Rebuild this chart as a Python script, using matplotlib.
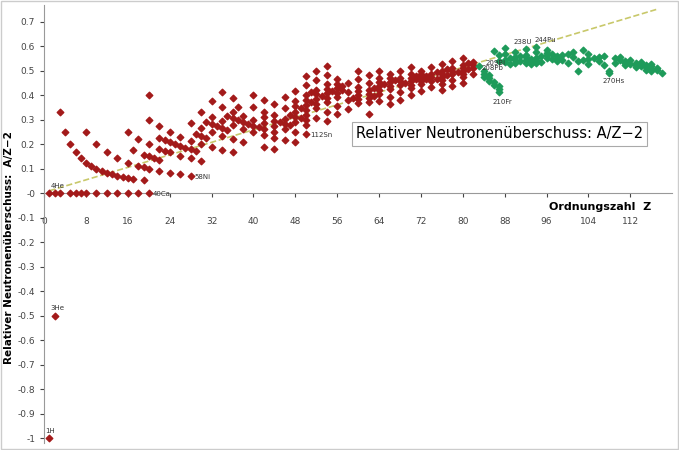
import numpy as np
import matplotlib
matplotlib.use("Agg")
import matplotlib.pyplot as plt

# mass numbers per atomic number Z (stable nuclides, red)
stable = {
    1: [1, 2], 2: [3, 4], 3: [6, 7], 4: [9], 5: [10, 11], 6: [12, 13], 7: [14, 15],
    8: [16, 17, 18], 9: [19], 10: [20, 21, 22], 11: [23], 12: [24, 25, 26], 13: [27],
    14: [28, 29, 30], 15: [31], 16: [32, 33, 34, 36], 17: [35, 37], 18: [36, 38, 40],
    19: [39, 40, 41], 20: [40, 42, 43, 44, 46, 48], 21: [45], 22: [46, 47, 48, 49, 50],
    23: [50, 51], 24: [50, 52, 53, 54], 25: [55], 26: [54, 56, 57, 58], 27: [59],
    28: [58, 60, 61, 62, 64], 29: [63, 65], 30: [64, 66, 67, 68, 70], 31: [69, 71],
    32: [70, 72, 73, 74, 76], 33: [75], 34: [74, 76, 77, 78, 80, 82], 35: [79, 81],
    36: [78, 80, 82, 83, 84, 86], 37: [85, 87], 38: [84, 86, 87, 88], 39: [89],
    40: [90, 91, 92, 94, 96], 41: [93], 42: [92, 94, 95, 96, 97, 98, 100],
    44: [96, 98, 99, 100, 101, 102, 104], 45: [103], 46: [102, 104, 105, 106, 108, 110],
    47: [107, 109], 48: [106, 108, 110, 111, 112, 113, 114, 116], 49: [113, 115],
    50: [112, 114, 115, 116, 117, 118, 119, 120, 122, 124], 51: [121, 123],
    52: [120, 122, 123, 124, 125, 126, 128, 130], 53: [127],
    54: [124, 126, 128, 129, 130, 131, 132, 134, 136], 55: [133],
    56: [130, 132, 134, 135, 136, 137, 138], 57: [138, 139], 58: [136, 138, 140, 142],
    59: [141], 60: [142, 143, 144, 145, 146, 148, 150],
    62: [144, 147, 148, 149, 150, 152, 154], 63: [151, 153],
    64: [152, 154, 155, 156, 157, 158, 160], 65: [159],
    66: [156, 158, 160, 161, 162, 163, 164], 67: [165], 68: [162, 164, 166, 167, 168, 170],
    69: [169], 70: [168, 170, 171, 172, 173, 174, 176], 71: [175, 176],
    72: [174, 176, 177, 178, 179, 180], 73: [180, 181], 74: [180, 182, 183, 184, 186],
    75: [185, 187], 76: [184, 186, 187, 188, 189, 190, 192], 77: [191, 193],
    78: [190, 192, 194, 195, 196, 198], 79: [197], 80: [196, 198, 199, 200, 201, 202, 204],
    81: [203, 205], 82: [204, 206, 207, 208],
}
# long-lived isotopes of heavier elements (green)
unstable = {
    83: [209], 84: [208, 209, 210], 85: [209, 210, 211], 86: [210, 211, 222],
    87: [210, 211, 212, 221, 223], 88: [223, 224, 226, 228], 89: [225, 227],
    90: [228, 229, 230, 232], 91: [231, 233], 92: [233, 234, 235, 236, 238],
    93: [235, 236, 237], 94: [238, 239, 240, 242, 244], 95: [241, 243],
    96: [245, 246, 247, 248], 97: [247, 249], 98: [249, 250, 251], 99: [252, 254],
    100: [253, 257], 101: [258, 260], 102: [255, 259], 103: [262, 266],
    104: [263, 265, 267], 105: [268], 106: [269, 271], 107: [270, 274],
    108: [269, 270], 109: [276, 278], 110: [280, 281], 111: [280, 281, 282],
    112: [283, 285], 113: [284, 285, 286], 114: [287, 288, 289], 115: [288, 289, 290],
    116: [290, 291, 292, 293], 117: [293, 294], 118: [294],
}
labels = [(1, 1, "1H"), (2, 3, "3He"), (2, 4, "4He"), (20, 40, "40Ca"), (28, 58, "58Ni"),
          (50, 112, "112Sn"), (83, 209, "209Bi"), (82, 208, "208Pb"), (87, 210, "210Fr"),
          (92, 238, "238U"), (94, 244, "244Pu"), (108, 270, "270Hs")]
trend_x = [1, 117]
trend_y = [0.01, 0.75]


def flatten(d):
    zs, vs = [], []
    for z, masses in d.items():
        for a in masses:
            zs.append(z)
            vs.append(a / z - 2)
    return zs, vs


fig = plt.figure(figsize=(6.79, 4.5), dpi=100)
ax = fig.add_axes([0.065, 0.015, 0.925, 0.975])
ax.set_xlim(0, 120)
ax.set_ylim(-1.02, 0.77)

ax.plot(trend_x, trend_y, ls="--", color="#c8c86a", lw=1.2, zorder=1)
zr, vr = flatten(stable)
zg, vg = flatten(unstable)
ax.scatter(zr, vr, marker="D", s=11, color="#a31a1a", zorder=3)
ax.scatter(zg, vg, marker="D", s=11, color="#1e9b5a", zorder=3)

offsets = {"1H": (-3, 4), "3He": (-3, 4), "4He": (-3, 4), "238U": (-9, 4), "244Pu": (-1, 4),
           "210Fr": (-5, -9), "270Hs": (-5, -9), "209Bi": (5, 1), "208Pb": (6, -6)}
for z, a, t in labels:
    v = a / z - 2
    ax.annotate(t, (z, v), xytext=offsets.get(t, (3, -2)), textcoords="offset points",
                fontsize=5, color="#333333")

ax.spines["left"].set_position(("data", 0))
ax.spines["bottom"].set_position(("data", 0))
for s in ("top", "right"):
    ax.spines[s].set_visible(False)
ax.spines["left"].set_color("#999999")
ax.spines["bottom"].set_color("#999999")
ax.set_xticks(np.arange(0, 113, 8))
yt = np.round(np.arange(-1, 0.71, 0.1), 1)
ax.set_yticks(yt)
ax.set_yticklabels([("%g" % v) for v in yt])
ax.tick_params(labelsize=6.5, colors="#444444", length=3)
ax.tick_params(axis="x", pad=14)

ax.text(116, -0.055, "Ordnungszahl  Z", ha="right", va="center", fontsize=8, fontweight="bold")
fig.text(0.013, 0.45, "Relativer Neutronenüberschuss:  A/Z\u22122", rotation=90, ha="center",
         va="center", fontsize=7.5, fontweight="bold")
ax.text(0.725, 0.705, "Relativer Neutronenüberschuss: A/Z\u22122", transform=ax.transAxes,
        ha="center", va="center", fontsize=10.5,
        bbox=dict(facecolor="white", edgecolor="#aaaaaa", lw=0.8, pad=3))

fig.patches.append(plt.Rectangle((0.002, 0.002), 0.996, 0.996, transform=fig.transFigure,
                                 fill=False, edgecolor="#cccccc", lw=1))
fig.savefig("out.png", dpi=100)
